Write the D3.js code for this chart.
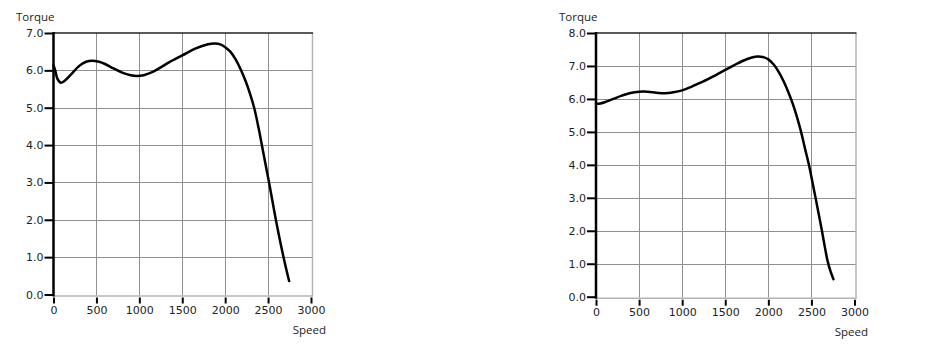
<!DOCTYPE html>
<html>
<head>
<meta charset="utf-8">
<script src="https://cdn.jsdelivr.net/npm/d3@7/dist/d3.min.js"></script>
<style>
  html, body { margin: 0; padding: 0; background: #fff; }
  svg { display: block; }
</style>
</head>
<body>
<script>
// ---- data ----
const speedTicks = [0, 500, 1000, 1500, 2000, 2500, 3000];
const leftTorqueTicks = [0, 1, 2, 3, 4, 5, 6, 7];
const rightTorqueTicks = [0, 1, 2, 3, 4, 5, 6, 7, 8];

const leftSpeed  = [0, 20, 45, 85, 130, 200, 300, 380, 450, 530, 600, 700, 800, 900, 970, 1050, 1150, 1250, 1350, 1500, 1650, 1800, 1880, 1950, 2000, 2060, 2120, 2180, 2240, 2290, 2340, 2390, 2440, 2515, 2595, 2680, 2745];
const leftTorque = [6.13, 6.0, 5.78, 5.67, 5.72, 5.88, 6.12, 6.23, 6.26, 6.23, 6.17, 6.05, 5.94, 5.87, 5.85, 5.87, 5.95, 6.08, 6.22, 6.40, 6.58, 6.70, 6.72, 6.69, 6.62, 6.50, 6.30, 6.03, 5.70, 5.37, 4.98, 4.45, 3.85, 2.95, 1.95, 1.0, 0.36];

const rightSpeed  = [0, 50, 100, 200, 300, 400, 500, 600, 700, 800, 900, 1000, 1100, 1200, 1300, 1400, 1500, 1600, 1700, 1800, 1880, 1950, 2000, 2060, 2120, 2180, 2230, 2280, 2330, 2380, 2425, 2471, 2510, 2548, 2585, 2622, 2655, 2688, 2722, 2756];
const rightTorque = [5.85, 5.86, 5.90, 6.00, 6.10, 6.18, 6.22, 6.22, 6.19, 6.17, 6.20, 6.26, 6.36, 6.48, 6.60, 6.74, 6.88, 7.02, 7.15, 7.25, 7.29, 7.26, 7.20, 7.05, 6.82, 6.52, 6.22, 5.88, 5.47, 5.0, 4.5, 4.0, 3.5, 3.0, 2.5, 2.0, 1.52, 1.08, 0.77, 0.53];

// ---- layout ----
const W = 931, H = 356;
const svg = d3.select("body").append("svg").attr("width", W).attr("height", H);
svg.append("rect").attr("width", W).attr("height", H).attr("fill", "#fff");

const charts = [
  { speed: leftSpeed, torque: leftTorque, yTicks: leftTorqueTicks, yMax: 7,
    x0: 53.5, x1: 311, yTop: 33, yBot: 294.5, titleX: 16, speedX: 326 },
  { speed: rightSpeed, torque: rightTorque, yTicks: rightTorqueTicks, yMax: 8,
    x0: 596, x1: 854.5, yTop: 33, yBot: 296.7, titleX: 559, speedX: 868 }
];

const gridColor = "#8f8f8f";
const tickFont = "DejaVu Sans, Verdana, sans-serif";
const labelFont = "'Open Sans', 'Noto Sans', sans-serif";

charts.forEach(c => {
  const x = d3.scaleLinear().domain([0, 3000]).range([c.x0, c.x1]);
  const y = d3.scaleLinear().domain([0, c.yMax]).range([c.yBot, c.yTop]);
  const g = svg.append("g");

  // gridlines
  g.append("g").selectAll("line").data(speedTicks.filter(t => t > 0 && t < 3000))
    .join("line")
    .attr("x1", d => Math.round(x(d)) + 0.5).attr("x2", d => Math.round(x(d)) + 0.5)
    .attr("y1", c.yTop).attr("y2", c.yBot + 1)
    .attr("stroke", gridColor).attr("stroke-width", 1);
  g.append("g").selectAll("line").data(c.yTicks.filter(t => t > 0 && t < c.yMax))
    .join("line")
    .attr("x1", c.x0).attr("x2", c.x1 + 1.5)
    .attr("y1", d => Math.round(y(d)) + 0.5).attr("y2", d => Math.round(y(d)) + 0.5)
    .attr("stroke", gridColor).attr("stroke-width", 1);

  // frame: right & bottom gray, top dark
  g.append("line").attr("x1", c.x1 + 1.5).attr("x2", c.x1 + 1.5)
    .attr("y1", c.yTop).attr("y2", c.yBot + 2)
    .attr("stroke", "#b4b4b4").attr("stroke-width", 1.5);
  g.append("line").attr("x1", c.x0).attr("x2", c.x1 + 2)
    .attr("y1", c.yBot + 1.5).attr("y2", c.yBot + 1.5)
    .attr("stroke", "#b4b4b4").attr("stroke-width", 1.5);
  g.append("line").attr("x1", c.x0).attr("x2", c.x1 + 2)
    .attr("y1", c.yTop).attr("y2", c.yTop)
    .attr("stroke", "#222").attr("stroke-width", 1.5);

  // y axis
  const yAxis = d3.axisLeft(y).tickValues(c.yTicks).tickFormat(d3.format(".1f"))
    .tickSize(9).tickSizeOuter(0).tickPadding(1);
  const ya = g.append("g").attr("transform", `translate(${c.x0},0)`).call(yAxis);
  ya.select(".domain").attr("stroke", "#000").attr("stroke-width", 2.5)
    .attr("d", `M0,${c.yTop - 1}V${c.yBot + 2}`);
  ya.selectAll(".tick line").attr("stroke", "#000").attr("stroke-width", 2);
  ya.selectAll(".tick text").attr("font-family", tickFont).attr("font-size", 11)
    .attr("fill", "#222");

  // x axis
  const xAxis = d3.axisBottom(x).tickValues(speedTicks).tickFormat(d3.format("d"))
    .tickSize(6).tickSizeOuter(0).tickPadding(3);
  const xa = g.append("g").attr("transform", `translate(0,${c.yBot + 3})`).call(xAxis);
  xa.select(".domain").remove();
  xa.selectAll(".tick line").attr("stroke", "#000").attr("stroke-width", 2);
  xa.selectAll(".tick text").attr("font-family", tickFont).attr("font-size", 11)
    .attr("fill", "#222");

  // curve
  const pts = c.speed.map((s, i) => [s, c.torque[i]]);
  g.append("path").datum(pts)
    .attr("fill", "none").attr("stroke", "#000").attr("stroke-width", 2.5)
    .attr("stroke-linejoin", "round").attr("stroke-linecap", "round")
    .attr("d", d3.line().x(d => x(d[0])).y(d => y(d[1])).curve(d3.curveCatmullRom.alpha(0.5)));

  // labels
  g.append("text").attr("x", c.titleX).attr("y", 21)
    .attr("font-family", labelFont).attr("font-size", 11.5).attr("fill", "#222")
    .text("Torque");
  g.append("text").attr("x", c.speedX).attr("y", c.yBot + 39).attr("text-anchor", "end")
    .attr("font-family", labelFont).attr("font-size", 11.5).attr("fill", "#222")
    .text("Speed");
});
</script>
</body>
</html>
